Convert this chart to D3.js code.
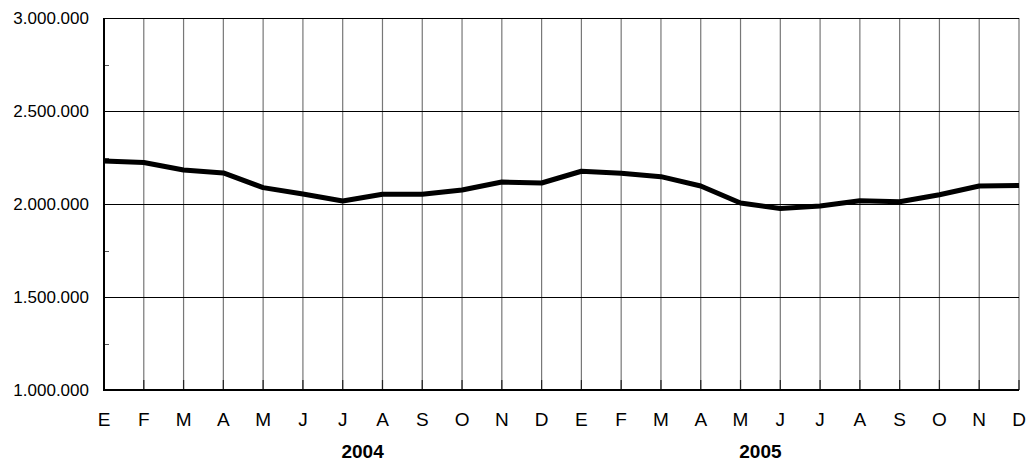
<!DOCTYPE html>
<html>
<head>
<meta charset="utf-8">
<script src="https://cdn.jsdelivr.net/npm/d3@7"></script>
<style>
  body { margin: 0; background: #fff; }
  text { font-family: "Liberation Sans", Arial, sans-serif; }
</style>
</head>
<body>
<script>
// data
const months = ["E","F","M","A","M","J","J","A","S","O","N","D",
                "E","F","M","A","M","J","J","A","S","O","N","D"];
const years = ["2004", "2005"];
const values = [2231000, 2223000, 2183000, 2167000, 2088000, 2054000,
                2016000, 2052000, 2052000, 2075000, 2118000, 2113000,
                2176000, 2165000, 2147000, 2097000, 2005000, 1976000,
                1989000, 2018000, 2012000, 2050000, 2097000, 2100000];
const yTicks = [1000000, 1500000, 2000000, 2500000, 3000000];
const yMinor = [1250000, 1750000, 2250000, 2750000];

const width = 1031, height = 466;
const margin = {top: 18, right: 12, bottom: 76, left: 104};

const svg = d3.select("body").append("svg")
    .attr("width", width)
    .attr("height", height);

const x = d3.scaleLinear()
    .domain([0, months.length - 1])
    .range([margin.left, width - margin.right]);

const y = d3.scaleLinear()
    .domain([1000000, 3000000])
    .range([height - margin.bottom, margin.top]);

const fmt = d => d3.format(",")(d).replace(/,/g, ".");

// vertical gridlines
svg.append("g")
    .selectAll("line")
    .data(d3.range(1, months.length))
    .join("line")
    .attr("x1", d => x(d)).attr("x2", d => x(d))
    .attr("y1", y(3000000)).attr("y2", y(1000000))
    .attr("stroke", "#777")
    .attr("stroke-width", 1.2);

// darker ticks on the bottom
svg.append("g")
    .selectAll("line")
    .data(d3.range(1, months.length))
    .join("line")
    .attr("x1", d => x(d)).attr("x2", d => x(d))
    .attr("y1", y(1000000) - 10).attr("y2", y(1000000))
    .attr("stroke", "#222")
    .attr("stroke-width", 1.2);

// horizontal gridlines
svg.append("g")
    .selectAll("line")
    .data(yTicks.slice(1))
    .join("line")
    .attr("x1", x(0)).attr("x2", x(months.length - 1))
    .attr("y1", d => Math.round(y(d)) + 0.5).attr("y2", d => Math.round(y(d)) + 0.5)
    .attr("stroke", "#000")
    .attr("stroke-width", 1);

// minor ticks on the y axis
svg.append("g")
    .selectAll("line")
    .data(yMinor)
    .join("line")
    .attr("x1", x(0)).attr("x2", x(0) + 5)
    .attr("y1", d => Math.round(y(d)) + 0.5).attr("y2", d => Math.round(y(d)) + 0.5)
    .attr("stroke", "#555");

// axes lines
svg.append("line")
    .attr("x1", x(0)).attr("x2", x(0))
    .attr("y1", y(3000000)).attr("y2", y(1000000) + 1)
    .attr("stroke", "#000").attr("stroke-width", 2);
svg.append("line")
    .attr("x1", x(0) - 1).attr("x2", x(months.length - 1))
    .attr("y1", y(1000000)).attr("y2", y(1000000))
    .attr("stroke", "#000").attr("stroke-width", 2);

// y labels
svg.append("g")
    .selectAll("text")
    .data(yTicks)
    .join("text")
    .attr("x", x(0) - 15)
    .attr("y", d => y(d) + 5.5)
    .attr("text-anchor", "end")
    .attr("font-size", 17)
    .attr("fill", "#000")
    .text(fmt);

// month labels
svg.append("g")
    .selectAll("text")
    .data(months)
    .join("text")
    .attr("x", (d, i) => x(i))
    .attr("y", y(1000000) + 36)
    .attr("text-anchor", "middle")
    .attr("font-size", 19)
    .text(d => d);

// year labels
svg.append("g")
    .selectAll("text")
    .data(years)
    .join("text")
    .attr("x", (d, i) => x(i * 10 + 6.5))
    .attr("y", y(1000000) + 68)
    .attr("text-anchor", "middle")
    .attr("font-size", 19)
    .attr("font-weight", "bold")
    .text(d => d);

// series line
const line = d3.line()
    .x((d, i) => x(i))
    .y(d => y(d));

svg.append("path")
    .datum(values)
    .attr("fill", "none")
    .attr("stroke", "#000")
    .attr("stroke-width", 5)
    .attr("stroke-linejoin", "round")
    .attr("d", line);
</script>
</body>
</html>
